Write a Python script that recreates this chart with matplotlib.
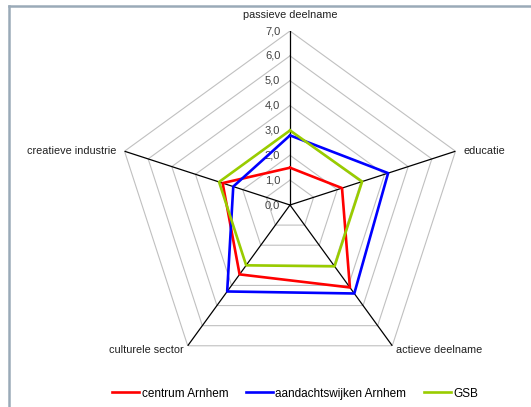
import numpy as np
import matplotlib
matplotlib.use("Agg")
import matplotlib.pyplot as plt
from matplotlib.lines import Line2D

categories = ["passieve deelname", "educatie", "actieve deelname",
              "culturele sector", "creatieve industrie"]
centrum = [1.5, 2.2, 4.1, 3.45, 2.85]
aandacht = [2.8, 4.15, 4.4, 4.3, 2.4]
gsb = [3.0, 3.05, 3.05, 3.0, 3.0]
series_names = ["centrum Arnhem", "aandachtswijken Arnhem", "GSB"]
ticks = [0, 1, 2, 3, 4, 5, 6, 7]
tick_labels = ["0,0", "1,0", "2,0", "3,0", "4,0", "5,0", "6,0", "7,0"]

plt.rcParams["font.family"] = ["Liberation Sans", "DejaVu Sans"]

fig = plt.figure(figsize=(5.31, 4.07), dpi=100)
ax = fig.add_axes([116 / 531, 28 / 407, 348 / 531, 348 / 407], projection="polar")
ax.set_theta_zero_location("N")
ax.set_theta_direction(-1)
ax.set_ylim(0, 7)
ax.grid(False)
ax.spines["polar"].set_visible(False)
ax.set_xticks([])
ax.set_yticks([])
ax.patch.set_alpha(0)

n = len(categories)
angles = np.arange(n) * 2 * np.pi / n
closed = np.append(angles, angles[0])

# gridlijnen (vijfhoeken)
for r in ticks[1:]:
    ax.plot(closed, [r] * (n + 1), color="#c0c0c0", lw=0.8, zorder=1)

# assen
for a in angles:
    ax.plot([a, a], [0, 7], color="black", lw=0.9, zorder=2)

# schaal labels
for r, lab in zip(ticks, tick_labels):
    ax.annotate(lab, xy=(0, r), xytext=(-7, 0), textcoords="offset points",
                ha="right", va="center", fontsize=8, color="#404040")

# categorie labels
offsets = [(0, 8, "center", "bottom"), (6, 0, "left", "center"),
           (3, -3, "left", "center"), (-3, -3, "right", "center"),
           (-6, 0, "right", "center")]
for a, cat, (dx, dy, ha, va) in zip(angles, categories, offsets):
    ax.annotate(cat, xy=(a, 7), xytext=(dx, dy), textcoords="offset points",
                ha=ha, va=va, fontsize=7.8, color="#202020")

colors = ["#ff0000", "#0000ff", "#99cc00"]
handles = []
for vals, name, c in zip([centrum, aandacht, gsb], series_names, colors):
    h, = ax.plot(closed, vals + [vals[0]], color=c, lw=1.9, label=name, zorder=3)
    handles.append(h)

fig.legend(handles=handles, loc="lower center", bbox_to_anchor=(0.556, -0.008),
           ncol=3, frameon=False, fontsize=8.5, handlelength=2.3,
           handletextpad=0.2, columnspacing=1.5)

# kader
fig.add_artist(Line2D([9 / 531, 1], [1 - 5.5 / 407, 1 - 5.5 / 407],
                      transform=fig.transFigure, color="#9aaab8", lw=1.8))
fig.add_artist(Line2D([9 / 531, 9 / 531], [0, 1 - 5.5 / 407],
                      transform=fig.transFigure, color="#9aaab8", lw=1.8))

fig.savefig("out.png", dpi=100)
